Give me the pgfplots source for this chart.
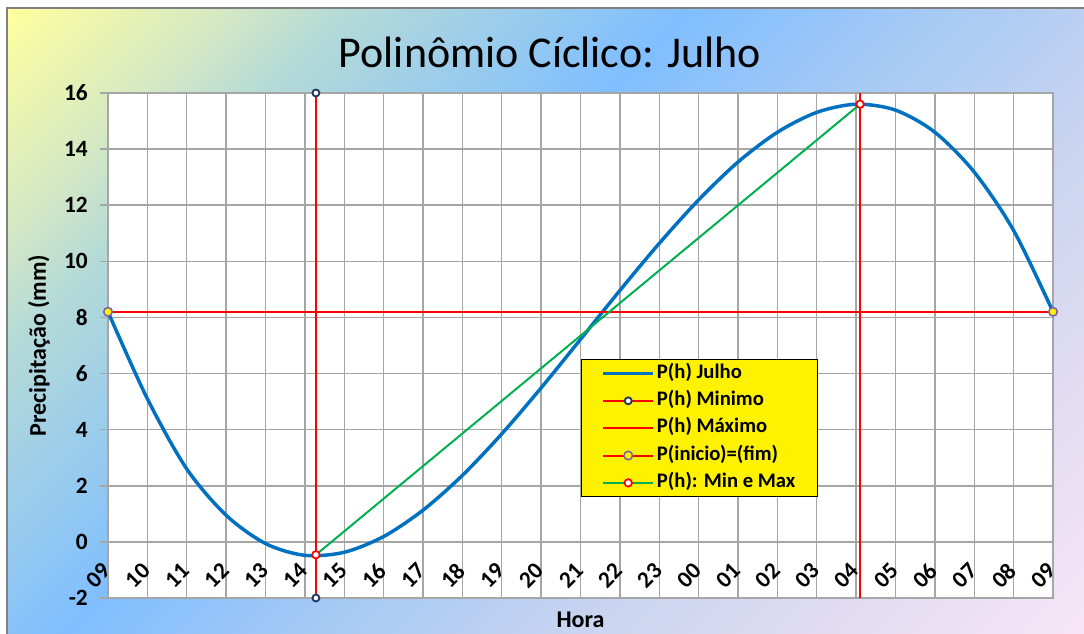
\documentclass[border=0pt]{standalone}
\usepackage{fontspec}
\setmainfont{Carlito}
\usepackage{pgfplots}
\pgfplotsset{compat=1.18}

\definecolor{jblue}{HTML}{0070C0}
\definecolor{jred}{HTML}{FF0000}
\definecolor{jgreen}{HTML}{00B050}
\definecolor{gridgray}{HTML}{A6A6A6}
\definecolor{navy}{HTML}{1F3864}
\definecolor{mkpurple}{HTML}{8064A2}
\definecolor{c1}{HTML}{F6E6F6}
\definecolor{c2}{HTML}{E2DCF2}
\definecolor{c3}{HTML}{C8D4F0}
\definecolor{c4}{HTML}{A6CAF4}
\definecolor{c5}{HTML}{80BEFF}
\definecolor{c6}{HTML}{B4DAD8}
\definecolor{c7}{HTML}{D4E8C4}
\definecolor{c8}{HTML}{FFFF9E}
\pgfdeclareverticalshading{bgshade}{100bp}{color(0bp)=(c1); color(14.6bp)=(c1); color(25.2bp)=(c2); color(35.8bp)=(c3); color(46.5bp)=(c4); color(57.1bp)=(c5); color(71.2bp)=(c6); color(76.2bp)=(c7); color(85.4bp)=(c8); color(100bp)=(c8)}

\begin{document}
\begin{tikzpicture}
\fill[white] (0pt,0pt) rectangle (813pt,475.5pt);
\shade[shading=bgshade, shading angle=45] (5.25pt,0pt) rectangle (813pt,469.5pt);
\draw[gray, line width=1.5pt] (5.25pt,0pt) -- (5.25pt,469.5pt) -- (813pt,469.5pt);
\node[anchor=base, font=\fontsize{33}{36}\selectfont] at (412.5pt,425pt) {Polinômio Cíclico: Julho};
\begin{axis}[
  at={(81pt,27pt)}, anchor=south west,
  scale only axis, width=708.75pt, height=378.75pt,
  xmin=9, xmax=33, ymin=-2, ymax=16,
  xtick={9,...,33},
  xticklabels={09,10,11,12,13,14,15,16,17,18,19,20,21,22,23,00,01,02,03,04,05,06,07,08,09},
  ytick={-2,0,2,4,6,8,10,12,14,16},
  grid=major,
  major grid style={gridgray, line width=1.1pt},
  axis line style={gridgray, line width=1.1pt},
  axis background/.style={fill=white},
  tick align=outside,
  major tick length=6pt,
  ytick style={gridgray, line width=1.1pt},
  xtick style={draw=none},
  xtick pos=bottom, ytick pos=left,
  /pgf/number format/assume math mode=true,
  yticklabel style={font=\bfseries\fontsize{17.5}{17.5}\selectfont, inner sep=2pt, xshift=-7pt},
  xticklabel style={font=\bfseries\fontsize{17.5}{17.5}\selectfont, rotate=45, anchor=east, inner sep=1pt},
  xticklabel shift=-30pt,
  xlabel={Hora}, ylabel={Precipitação (mm)},
  xlabel style={font=\bfseries\fontsize{18}{18}\selectfont, at={(axis description cs:0.5,-0.0436)}, anchor=center},
  ylabel style={font=\bfseries\fontsize{18}{18}\selectfont, at={(axis description cs:-0.073,0.5)}, anchor=center},
  clip=false,
  legend cell align=left,
  legend image code/.code={\draw[mark repeat=2, mark phase=2, #1] plot coordinates {(0pt,0pt) (18.75pt,0pt) (37.5pt,0pt)};},
  legend style={at={(0.5005,0.4733)}, anchor=north west, fill=yellow, draw=black, line width=0.8pt,
    font=\bfseries\fontsize{15.5}{16}\selectfont, inner xsep=15pt, inner ysep=2.5pt, row sep=4.5pt,
    nodes={text height=10.5pt, text depth=3.5pt, inner ysep=1pt, inner xsep=1.5pt}},
]
\addplot[jblue, line width=2.6pt, smooth] coordinates {
(9,8.2) (10,5.1) (11,2.6) (12,0.95) (13,-0.06) (14,-0.48) (15,-0.37) (16,0.19) (17,1.13)
(18,2.37) (19,3.85) (20,5.49) (21,7.22) (22,8.96) (23,10.64) (24,12.19) (25,13.54)
(26,14.60) (27,15.31) (28,15.60) (29,15.39) (30,14.60) (31,13.18) (32,11.10) (33,8.2)};
\addlegendentry{P(h) Julho}
\addplot[jred, line width=1.5pt, mark=*, mark size=2.6pt, mark options={fill=white, draw=navy, line width=1.4pt}] coordinates {(14.28,16) (14.28,-2)};
\addlegendentry{P(h) Minimo}
\addplot[jred, line width=1.5pt] coordinates {(28.1,-2) (28.1,16)};
\addlegendentry{P(h) Máximo}
\addplot[jred, line width=1.5pt, mark=*, mark size=3.2pt, mark options={fill=yellow, draw=mkpurple, line width=1.2pt}] coordinates {(9,8.2) (33,8.2)};
\addlegendentry{P(inicio)=(fim)}
\addplot[jgreen, line width=1.5pt, mark=*, mark size=2.8pt, mark options={fill=white, draw=jred, line width=1.3pt}] coordinates {(14.28,-0.46) (28.1,15.6)};
\addlegendentry{P(h): Min e Max}
\end{axis}
\pgfresetboundingbox
\useasboundingbox (0pt,0pt) rectangle (813pt,475.5pt);
\end{tikzpicture}
\end{document}
